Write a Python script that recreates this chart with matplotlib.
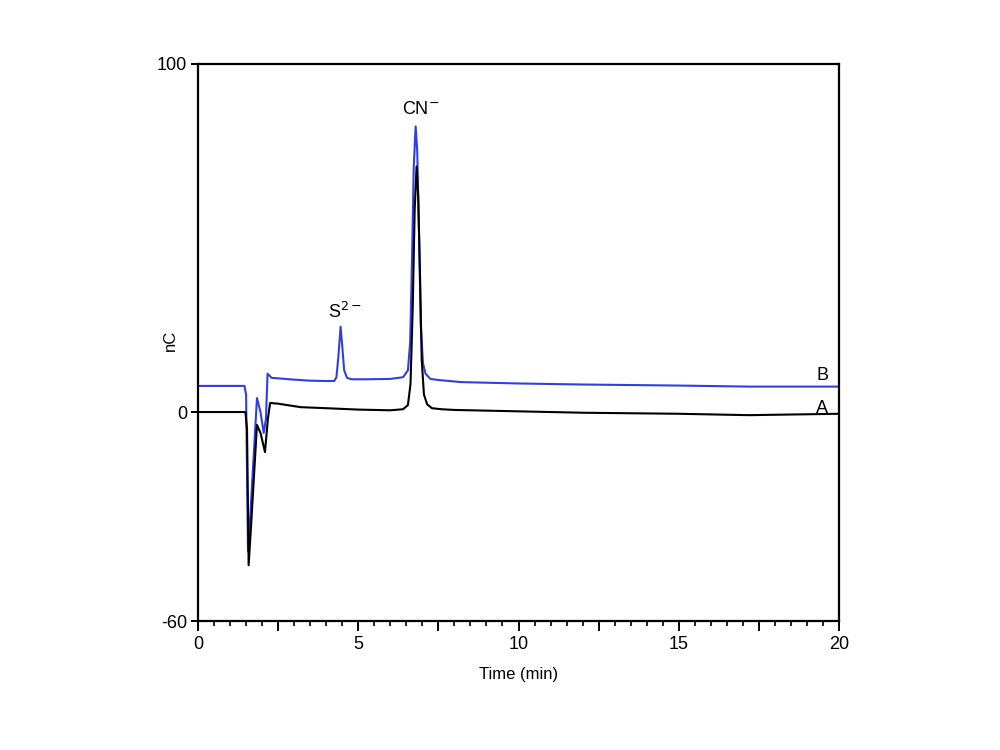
import matplotlib.pyplot as plt
from matplotlib.ticker import MultipleLocator, FuncFormatter

plt.rcParams["font.family"] = ["Liberation Sans", "DejaVu Sans"]
plt.rcParams["axes.unicode_minus"] = False

# trace B (blue): sample with sulfide and cyanide
time_b = [0, 1.45, 1.5, 1.56, 1.63, 1.84, 1.95, 2.05, 2.12, 2.17, 2.3, 2.6, 3.0,
          3.5, 4.0, 4.25, 4.32, 4.38, 4.45, 4.5, 4.56, 4.65, 4.8, 5.2, 6.0, 6.4,
          6.55, 6.62, 6.68, 6.73, 6.79, 6.84, 6.9, 6.95, 7.02, 7.1, 7.25, 7.5,
          8.2, 10, 12, 15, 17.2, 20]
signal_b = [7.5, 7.5, 5, -40, -30, 4, 0, -6, -2, 11, 9.8, 9.6, 9.3,
            9.0, 8.9, 8.9, 10, 16, 24.5, 19, 12, 9.8, 9.4, 9.4, 9.5, 10,
            12, 20, 45, 70, 82, 75, 50, 25, 14, 11, 9.5, 9.2,
            8.6, 8.2, 7.9, 7.6, 7.3, 7.3]

# trace A (black)
time_a = [0, 1.48, 1.53, 1.58, 1.66, 1.84, 1.95, 2.09, 2.18, 2.25, 2.5, 3.2,
          4.0, 5.0, 6.0, 6.4, 6.55, 6.63, 6.7, 6.76, 6.82, 6.87, 6.93, 6.98,
          7.05, 7.15, 7.3, 7.6, 8.0, 10, 12, 15, 17.2, 20]
signal_a = [0, 0, -5, -44, -32, -3.7, -6, -11.5, -2, 2.6, 2.4, 1.4,
            1.1, 0.7, 0.5, 0.8, 2, 8, 30, 58, 70.5, 62, 38, 15,
            5, 2.2, 1.1, 0.8, 0.6, 0.2, -0.2, -0.5, -0.9, -0.5]

fig = plt.figure(figsize=(10, 7.5), dpi=100)
ax = fig.add_axes([0.198, 0.172, 0.641, 0.743])

ax.plot(time_b, signal_b, color="#2f3fe0", lw=1.5)
ax.plot(time_a, signal_a, color="black", lw=1.5)

ax.set_xlim(0, 20)
ax.set_ylim(-60, 100)
ax.set_yticks([-60, 0, 100])
ax.xaxis.set_major_locator(MultipleLocator(2.5))
ax.xaxis.set_minor_locator(MultipleLocator(0.5))
ax.xaxis.set_major_formatter(
    FuncFormatter(lambda v, p: f"{v:g}" if v % 5 == 0 else ""))

for s in ax.spines.values():
    s.set_linewidth(1.6)
ax.tick_params(axis="both", which="major", labelsize=13, width=1.4, length=5)
ax.tick_params(axis="x", which="major", length=7, pad=4)
ax.tick_params(axis="x", which="minor", length=3.5, width=1.2)
ax.tick_params(axis="y", pad=3)

ax.set_xlabel("Time (min)", fontsize=12, labelpad=10)
ax.set_ylabel("nC", fontsize=12)
ax.yaxis.set_label_coords(-0.031, 0.504)

ax.text(4.59, 28.7, "S$^{2-}$", fontsize=13, ha="center", va="center")
ax.text(6.96, 86.8, "CN$^{-}$", fontsize=13, ha="center", va="center")
ax.text(19.47, 10.6, "B", fontsize=13, ha="center", va="center")
ax.text(19.47, 1.1, "A", fontsize=13, ha="center", va="center")

fig.savefig("out.png")
